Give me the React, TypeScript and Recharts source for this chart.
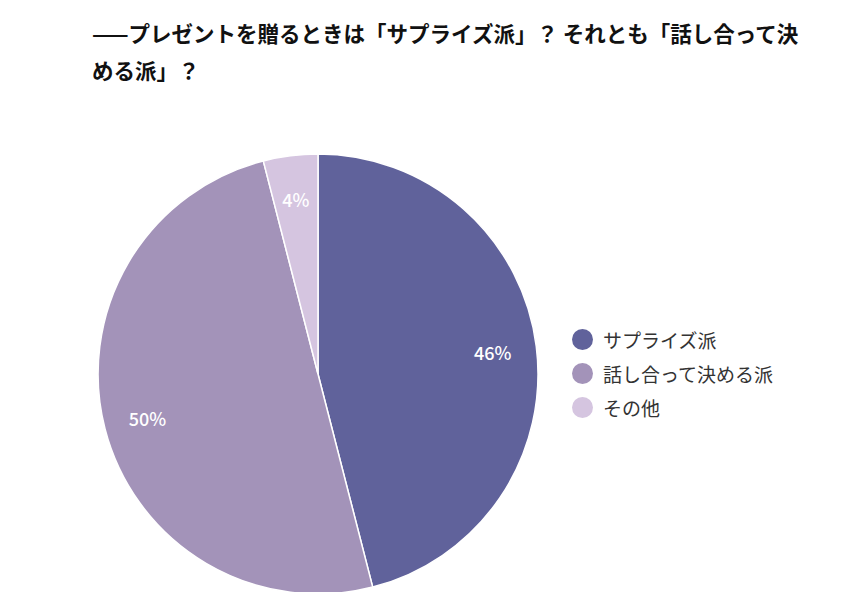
import React from "react";
import { PieChart, Pie, Cell, Legend } from "recharts";

const categories = ["サプライズ派", "話し合って決める派", "その他"];
const shares = [46, 50, 4];
const colors = ["#60629b", "#a393b9", "#d5c5e0"];

const titleLine1 = "——プレゼントを贈るときは「サプライズ派」？ それとも「話し合って決";
const titleLine2 = "める派」？";

const font = '"Noto Sans CJK JP", "Noto Sans", sans-serif';

const data = categories.map((name, i) => ({ name, value: shares[i] }));

const RADIAN = Math.PI / 180;

function renderLabel(props: any) {
  const { cx, cy, midAngle, outerRadius, value } = props;
  const r = outerRadius * 0.8;
  const x = cx + r * Math.cos(-midAngle * RADIAN);
  const y = cy + r * Math.sin(-midAngle * RADIAN);
  return (
    <text
      x={x}
      y={y}
      fill="#ffffff"
      textAnchor="middle"
      dominantBaseline="central"
      fontSize={18}
      fontWeight={500}
      fontFamily={font}
    >
      {value}%
    </text>
  );
}

function renderLegend() {
  return (
    <div style={{ fontFamily: font }}>
      {data.map((d, i) => (
        <div key={d.name} style={{ display: "flex", alignItems: "center", height: 34 }}>
          <span
            style={{
              width: 21,
              height: 21,
              borderRadius: "50%",
              background: colors[i],
              display: "inline-block",
              marginRight: 10,
            }}
          />
          <span style={{ fontSize: 19, color: "#333" }}>{d.name}</span>
        </div>
      ))}
    </div>
  );
}

export default function App() {
  return (
    <div style={{ position: "relative", width: 850, height: 600, margin: -8, background: "#fff" }}>
      <div
        style={{
          position: "absolute",
          left: 92,
          top: 14,
          fontFamily: font,
          fontWeight: 700,
          fontSize: 21.5,
          lineHeight: "37px",
          color: "#111",
          whiteSpace: "nowrap",
        }}
      >
        {titleLine1}
        <br />
        {titleLine2}
      </div>
      <PieChart width={850} height={600} margin={{ top: 0, right: 0, bottom: 0, left: 0 }}>
        <Pie
          data={data}
          dataKey="value"
          nameKey="name"
          cx={318}
          cy={374}
          outerRadius={220}
          startAngle={90}
          endAngle={-270}
          stroke="#ffffff"
          strokeWidth={1.5}
          label={renderLabel}
          labelLine={false}
          isAnimationActive={false}
        >
          {data.map((d, i) => (
            <Cell key={d.name} fill={colors[i]} />
          ))}
        </Pie>
        <Legend
          content={renderLegend}
          wrapperStyle={{ position: "absolute", left: 572, top: 322, width: 260 }}
        />
      </PieChart>
    </div>
  );
}
